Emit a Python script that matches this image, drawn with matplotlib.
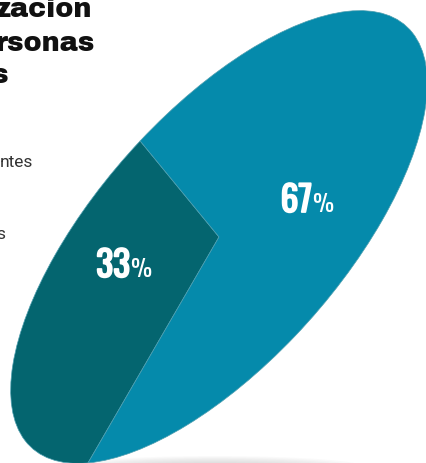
import matplotlib
matplotlib.use('Agg')
import matplotlib.pyplot as plt
import matplotlib.patheffects as pe
from matplotlib.patches import Ellipse
from matplotlib.transforms import Affine2D

# data
shares = [33, 67]
share_labels = ['33', '67']
colors = ['#04656f', '#058aab']
title_lines = ['zacion', 'rsonas', 's']
legend_lines = ['ntes', 's']

W, H = 427, 463
fig = plt.figure(figsize=(W / 100, H / 100), dpi=100)
ax = fig.add_axes([0, 0, 1, 1])

# soft shadow under the bottom of the disc
for k in range(8):
    ax.add_patch(Ellipse((215, -4), 300 - 22 * k, 22 - 2 * k, facecolor='#808080',
                         edgecolor='none', alpha=0.035, zorder=0))

wedges, _ = ax.pie(shares, colors=colors, startangle=86, counterclock=True,
                   wedgeprops=dict(edgecolor='#4f9fb0', linewidth=0.5))

# the pie is squashed into a tilted ellipse
ell = Affine2D().scale(282, 123).rotate_deg(48.5).translate(219, 226)
for w in wedges:
    w.set_transform(ell + ax.transData)
    w.set_zorder(2)

ax.set_aspect('auto')
ax.set_xlim(0, W)
ax.set_ylim(0, H)
ax.axis('off')

# percent labels (Oswald thickened a bit)
fat = [pe.withStroke(linewidth=1.3, foreground='white')]
for lab, (x, y) in zip(share_labels, [(130, 186), (312, 251)]):
    ax.text(x, y, lab, ha='right', va='baseline', color='white', zorder=3,
            fontsize=25.5, family=['Oswald', 'DejaVu Sans'], path_effects=fat)
    ax.text(x + 0.5, y, '%', ha='left', va='baseline', color='white', zorder=3,
            fontsize=17, family=['Oswald', 'DejaVu Sans'])

# cropped title
for txt, (x, y) in zip(title_lines, [(92, H - 17), (95, H - 51), (8, H - 83)]):
    ax.text(x, y, txt, ha='right', va='baseline', color='#111111',
            fontsize=19.5, family=['Archivo Black', 'DejaVu Sans'])

# cropped legend
for txt, (x, y) in zip(legend_lines, [(33, H - 167), (5, H - 239)]):
    ax.text(x, y, txt, ha='right', va='baseline', color='#333333',
            fontsize=12.5, family=['Roboto', 'DejaVu Sans'])

fig.savefig('out.png', dpi=100)
